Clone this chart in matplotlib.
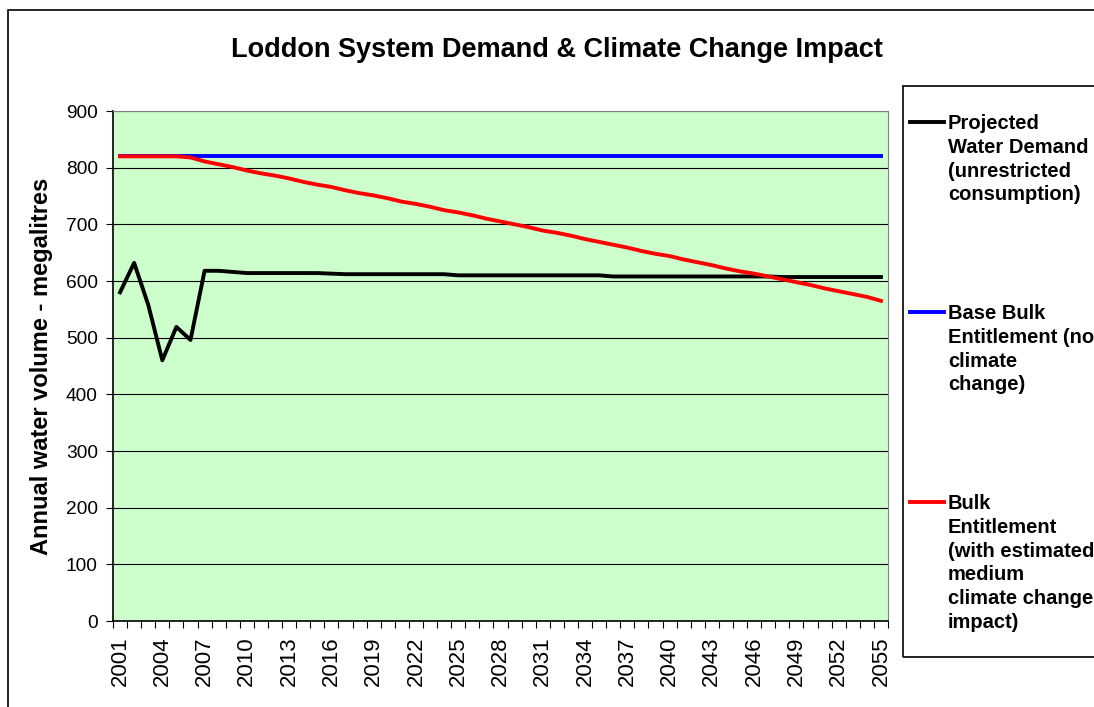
import numpy as np
import matplotlib.pyplot as plt
from matplotlib.lines import Line2D
from matplotlib.patches import Rectangle

plt.rcParams['font.family'] = ['Liberation Sans', 'DejaVu Sans']

years = list(range(2001, 2056))

demand = [580, 632, 558, 460, 519, 496, 618, 618, 616, 614,
          614, 614, 614, 614, 614, 613, 612, 612, 612, 612,
          612, 612, 612, 612, 610, 610, 610, 610, 610, 610,
          610, 610, 610, 610, 610, 608, 608, 608, 608, 608,
          608, 608, 608, 608, 608, 608, 608, 607, 607, 607,
          607, 607, 607, 607, 607]

base_be = [820] * len(years)

climate_be = [820, 820, 820, 820, 820, 818, 811, 806, 801, 795,
              790, 786, 781, 775, 770, 766, 760, 755, 751, 746,
              740, 736, 731, 725, 721, 716, 710, 705, 700, 695,
              689, 685, 680, 674, 669, 664, 659, 653, 648, 644,
              638, 633, 628, 622, 617, 613, 608, 603, 598, 593,
              587, 582, 577, 572, 565]

labels = ['Projected\nWater Demand\n(unrestricted\nconsumption)',
          'Base Bulk\nEntitlement (no\nclimate\nchange)',
          'Bulk\nEntitlement\n(with estimated\nmedium\nclimate change\nimpact)']
colors = ['black', '#0000ff', '#ff0000']

W, H = 1094, 707
fig = plt.figure(figsize=(W / 100, H / 100), dpi=100)
fig.patches.append(Rectangle((8 / W, -0.1), 1.2, 1 - 10 / H + 0.1, transform=fig.transFigure,
                             fill=False, edgecolor='black', linewidth=1.2))

ax = fig.add_axes([113 / W, 1 - 621 / H, (888 - 113) / W, (621 - 111) / H])
ax.set_facecolor('#ccffcc')

x = np.arange(len(years))
ax.plot(x, demand, color=colors[0], lw=2.8, solid_joinstyle='round')
ax.plot(x, base_be, color=colors[1], lw=2.8)
ax.plot(x, climate_be, color=colors[2], lw=2.8)

ax.set_xlim(-0.5, len(years) - 0.5)
ax.set_ylim(0, 900)
ax.set_yticks(range(0, 901, 100))
ax.yaxis.grid(True, color='black', lw=0.8)
ax.set_axisbelow(True)
ax.set_xticks(np.arange(-0.5, len(years), 1.0))
ax.set_xticklabels([])
ax.set_xticks(x[::3], minor=True)
ax.set_xticklabels([str(y) for y in years[::3]], minor=True, rotation=90, fontsize=16)
ax.tick_params(axis='x', which='major', length=5, direction='out', width=0.8)
ax.tick_params(axis='x', which='minor', length=0, pad=11)
ax.tick_params(axis='y', length=5, width=0.8, labelsize=13.8, pad=6)

for s in ['top', 'right']:
    ax.spines[s].set_color('#808080')
for s in ['left', 'bottom']:
    ax.spines[s].set_color('black')
    ax.spines[s].set_linewidth(1.2)

ax.set_ylabel('Annual water volume - megalitres', fontsize=17, fontweight='bold')
ax.yaxis.set_label_coords((53 - 113) / 775, 0.5)
fig.text(557 / W, 1 - 57 / H, 'Loddon System Demand & Climate Change Impact',
         ha='center', va='baseline', fontsize=19.5, fontweight='bold')

# legend box
fig.patches.append(Rectangle((903 / W, 1 - 657 / H), 0.2, (657 - 86) / H, transform=fig.transFigure,
                             fill=False, edgecolor='black', linewidth=1.2))
for lab, c, yy in zip(labels, colors, [122, 312, 502]):
    fig.lines.append(Line2D([910 / W, 944 / W], [1 - yy / H] * 2, transform=fig.transFigure,
                            color=c, lw=2.8))
    fig.text(948 / W, 1 - (yy - 8) / H, lab, ha='left', va='top', fontsize=14.5,
             fontweight='bold', linespacing=1.32)

fig.savefig('out.png', dpi=100)
